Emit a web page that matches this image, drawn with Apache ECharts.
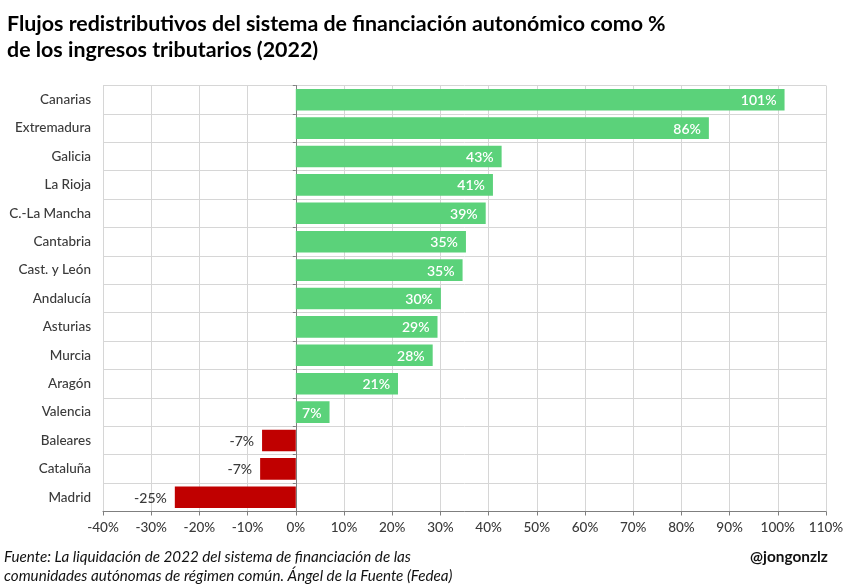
<!DOCTYPE html>
<html>
<head>
<meta charset="utf-8">
<style>
    html, body { margin: 0; padding: 0; background: #fff; }
    #chart { width: 849px; height: 587px; }
</style>
<script src="https://cdn.jsdelivr.net/npm/echarts@6/dist/echarts.min.js"></script>
</head>
<body>
<div id="chart"></div>
<script>
const categories = ["Canarias", "Extremadura", "Galicia", "La Rioja", "C.-La Mancha", "Cantabria", "Cast. y León", "Andalucía", "Asturias", "Murcia", "Aragón", "Valencia", "Baleares", "Cataluña", "Madrid"];
const values = [101.4, 85.7, 42.7, 40.9, 39.4, 35.3, 34.6, 30.1, 29.4, 28.4, 21.2, 7.0, -7.0, -7.4, -25.1];
const titleLines = ["Flujos redistributivos del sistema de financiación autonómico como %", "de los ingresos tributarios (2022)"];
const sourceLines = ["Fuente: La liquidación de 2022 del sistema de financiación de las", "comunidades autónomas de régimen común. Ángel de la Fuente (Fedea)"];
const handle = "@jongonzlz";

const fontFamily = "Lato";
const gridColor = "#d6d6d6";
const axisColor = "#7f7f7f";
const textColor = "#3a3a3a";

const chart = echarts.init(document.getElementById("chart"), null, { renderer: "canvas" });

chart.setOption({
    animation: false,
    backgroundColor: "#ffffff",
    textStyle: { fontFamily: fontFamily },
    title: [
        {
            text: titleLines.join("\n"),
            left: 7,
            top: 11,
            padding: 0,
            textStyle: { fontFamily: fontFamily, fontSize: 21.4, fontWeight: 700, color: "#000000", lineHeight: 26 }
        },
        {
            text: sourceLines.join("\n"),
            left: 4,
            top: 548,
            padding: 0,
            textStyle: { fontFamily: fontFamily, fontSize: 15.2, fontWeight: 400, fontStyle: "italic", color: "#111111", lineHeight: 19 }
        },
        {
            text: handle,
            left: 750,
            top: 550,
            padding: 0,
            textStyle: { fontFamily: fontFamily, fontSize: 15.4, fontWeight: 700, color: "#111111" }
        }
    ],
    grid: { left: 103, right: 23, top: 85.5, bottom: 75.5, show: false },
    xAxis: {
        type: "value",
        min: -40,
        max: 110,
        interval: 10,
        axisLine: { show: true, onZero: false, lineStyle: { color: axisColor, width: 1 } },
        axisTick: { show: true, length: 4, lineStyle: { color: axisColor } },
        axisLabel: { fontSize: 13.5, fontWeight: 500, color: textColor, margin: 9, formatter: "{value}%", hideOverlap: false },
        splitLine: { show: true, lineStyle: { color: gridColor, width: 1 } }
    },
    yAxis: [
        {
            type: "category",
            inverse: true,
            data: categories,
            axisLine: { show: false, onZero: false },
            axisTick: { show: false },
            axisLabel: { fontSize: 13.5, fontWeight: 500, color: textColor, margin: 12, interval: 0 },
            splitLine: { show: true, interval: 0, lineStyle: { color: gridColor, width: 1 } }
        },
        {
            // eje del cero, sin etiquetas
            type: "category",
            inverse: true,
            position: "left",
            data: categories,
            axisLine: { show: true, onZero: true, lineStyle: { color: axisColor, width: 1 } },
            axisTick: { show: true, length: 3, interval: 0, lineStyle: { color: axisColor } },
            axisLabel: { show: false },
            splitLine: { show: false }
        }
    ],
    series: [
        {
            type: "bar",
            barCategoryGap: "24%",
            data: values.map(v => ({
                value: v,
                itemStyle: { color: v >= 0 ? "#5bd27a" : "#c00000" },
                label: v >= 0
                    ? { position: "insideRight", color: "#ffffff", fontWeight: 600, distance: 8 }
                    : { position: "left", color: textColor, fontWeight: 500, distance: 8 }
            })),
            label: {
                show: true,
                fontSize: 14,
                offset: [0, 1],
                fontFamily: fontFamily,
                formatter: p => Math.round(p.value) + "%"
            }
        }
    ]
});

window.addEventListener("resize", () => chart.resize());
</script>
</body>
</html>
